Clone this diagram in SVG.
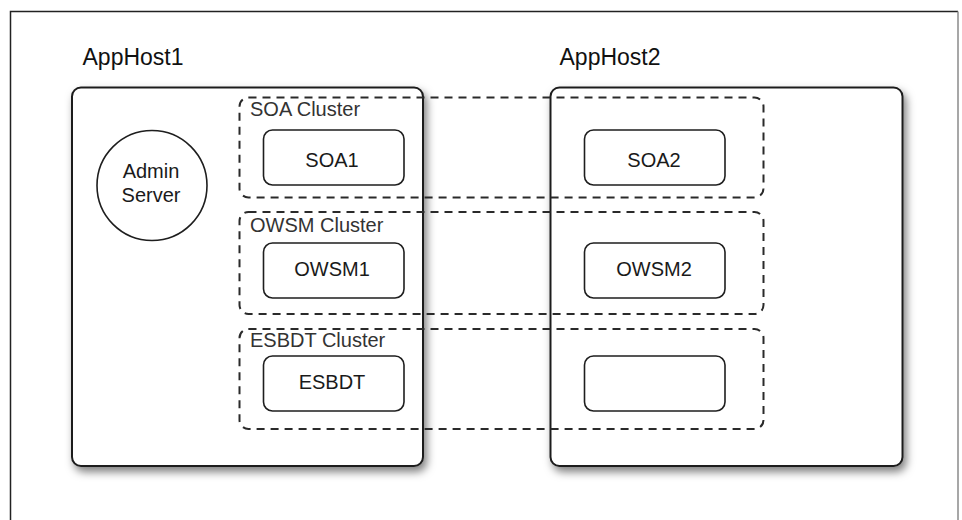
<svg xmlns="http://www.w3.org/2000/svg" width="962" height="520" viewBox="0 0 962 520">
  <style>
    .host { fill: #ffffff; stroke: #1e1e1e; stroke-width: 2; filter: url(#shadow); }
    .cluster { fill: none; stroke: #2a2a2a; stroke-width: 2; stroke-dasharray: 8 6; }
    .node { fill: #ffffff; stroke: #1e1e1e; stroke-width: 1.6; }
    .hostlabel { font-family: "Liberation Sans", Arial, sans-serif; font-size: 23px; fill: #111; }
    .clabel { font-family: "Liberation Sans", Arial, sans-serif; font-size: 20px; fill: #333; }
    .nlabel { font-family: "Liberation Sans", Arial, sans-serif; font-size: 20px; fill: #1a1a1a; text-anchor: middle; }
  </style>
  <defs>
    <filter id="shadow" x="-10%" y="-10%" width="125%" height="125%">
      <feDropShadow dx="3" dy="5" stdDeviation="4" flood-color="#000" flood-opacity="0.5"/>
    </filter>
  </defs>
  <rect width="962" height="520" fill="#ffffff"/>
  <g id="frame">
    <path d="M10.5 520 V11.5 H958" fill="none" stroke="#222" stroke-width="1.5"/>
    <path d="M958 11.5 V520" fill="none" stroke="#8a8a8a" stroke-width="1.5"/>
  </g>
  <g id="apphost1">
    <text class="hostlabel" x="82.5" y="65">AppHost1</text>
    <rect class="host" x="72" y="87.5" width="351" height="378.5" rx="9"/>
  </g>
  <g id="apphost2">
    <text class="hostlabel" x="559.5" y="65">AppHost2</text>
    <rect class="host" x="550.5" y="87.5" width="352" height="378.5" rx="9"/>
  </g>
  <g id="admin-server">
    <circle cx="152" cy="185.5" r="55" fill="#ffffff" stroke="#1e1e1e" stroke-width="1.6"/>
    <text class="nlabel" x="151" y="178">Admin</text>
    <text class="nlabel" x="151" y="202">Server</text>
  </g>
  <g id="soa-cluster">
    <rect class="cluster" x="239.5" y="97.5" width="524" height="100" rx="9"/>
    <text class="clabel" x="250" y="115.5">SOA Cluster</text>
  </g>
  <g id="owsm-cluster">
    <rect class="cluster" x="239.5" y="212" width="524" height="102" rx="9"/>
    <text class="clabel" x="250" y="231.5">OWSM Cluster</text>
  </g>
  <g id="esbdt-cluster">
    <rect class="cluster" x="239.5" y="329" width="524" height="100" rx="9"/>
    <text class="clabel" x="250" y="346.5">ESBDT Cluster</text>
  </g>
  <g id="soa1">
    <rect class="node" x="263.5" y="130" width="140.5" height="55" rx="9"/>
    <text class="nlabel" x="332" y="166.5">SOA1</text>
  </g>
  <g id="soa2">
    <rect class="node" x="584.5" y="130" width="140.5" height="55" rx="9"/>
    <text class="nlabel" x="654" y="166.5">SOA2</text>
  </g>
  <g id="owsm1">
    <rect class="node" x="263.5" y="243" width="140.5" height="55" rx="9"/>
    <text class="nlabel" x="332" y="276">OWSM1</text>
  </g>
  <g id="owsm2">
    <rect class="node" x="584.5" y="243" width="140.5" height="55" rx="9"/>
    <text class="nlabel" x="654" y="276">OWSM2</text>
  </g>
  <g id="esbdt">
    <rect class="node" x="263.5" y="356" width="140.5" height="55" rx="9"/>
    <text class="nlabel" x="332" y="389">ESBDT</text>
  </g>
  <g id="esbdt2">
    <rect class="node" x="584.5" y="356" width="140.5" height="55" rx="9"/>
  </g>
  <g id="connectors"></g>
</svg>
